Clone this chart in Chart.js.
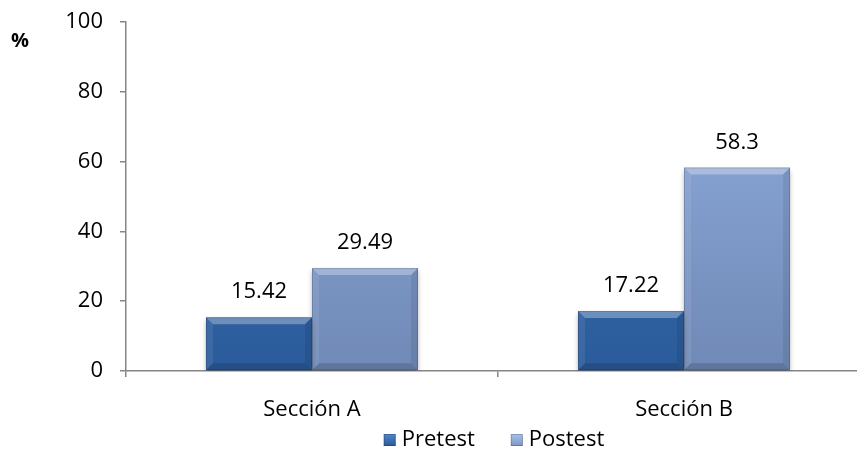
<!DOCTYPE html>
<html lang="es">
<head>
<meta charset="UTF-8">
<title>Pretest / Postest por sección</title>
<script src="https://cdn.jsdelivr.net/npm/chart.js"></script>
<style>
  html, body { margin: 0; padding: 0; background: #fff; overflow: hidden; }
  #wrap { width: 857px; height: 452px; overflow: hidden; }
  canvas { display: block; }
</style>
</head>
<body>
<div id="wrap">
  <canvas id="chart" width="880" height="452"></canvas>
</div>
<script>
// data
var secciones = ['Sección A', 'Sección B'];
var pretest = [15.42, 17.22];
var postest = [29.49, 58.3];
var yTicks = [0, 20, 40, 60, 80, 100];

var FONT = '"Open Sans", "Noto Sans", sans-serif';
var FONT_SIZE = 22;
var AXIS = '#868686';

// vertical gradient for a bar fill
function barFill(top, bottom) {
  return function (ctx) {
    var chart = ctx.chart, area = chart.chartArea;
    if (!area) return top;
    var g = chart.ctx.createLinearGradient(0, area.top, 0, area.bottom);
    g.addColorStop(0, top);
    g.addColorStop(1, bottom);
    return g;
  };
}

function quad(c, pts, col) {
  c.beginPath();
  c.moveTo(pts[0], pts[1]);
  for (var k = 2; k < pts.length; k += 2) c.lineTo(pts[k], pts[k + 1]);
  c.closePath();
  c.fillStyle = col;
  c.fill();
}

// soft shadow under the bars, bevel edges, value labels, legend and the % mark
var decoPlugin = {
  id: 'deco',
  beforeDatasetsDraw: function (chart) {
    var c = chart.ctx;
    c.save();
    c.shadowColor = 'rgba(0,0,0,0.35)';
    c.shadowBlur = 5;
    c.shadowOffsetY = 3;
  },
  afterDatasetsDraw: function (chart) {
    var c = chart.ctx;
    c.restore();
    chart.data.datasets.forEach(function (ds, i) {
      chart.getDatasetMeta(i).data.forEach(function (bar) {
        var x0 = bar.x - bar.width / 2, x1 = bar.x + bar.width / 2;
        var t = bar.y, b = bar.base, w = 7;
        quad(c, [x0, t, x1, t, x1 - w, t + w, x0 + w, t + w], 'rgba(255,255,255,0.30)');
        quad(c, [x0, t, x0 + w, t + w, x0 + w, b - w, x0, b], 'rgba(255,255,255,0.08)');
        quad(c, [x1, t, x1 - w, t + w, x1 - w, b - w, x1, b], 'rgba(0,0,0,0.08)');
        quad(c, [x0, b, x0 + w, b - w, x1 - w, b - w, x1, b], 'rgba(0,0,0,0.14)');
        c.strokeStyle = 'rgba(0,0,0,0.15)';
        c.lineWidth = 1;
        c.strokeRect(x0 + 0.5, t + 0.5, x1 - x0 - 1, b - t - 1);
      });
    });
    c.save();
    c.font = FONT_SIZE + 'px ' + FONT;
    c.fillStyle = '#000';
    c.textAlign = 'center';
    c.textBaseline = 'alphabetic';
    chart.data.datasets.forEach(function (ds, i) {
      chart.getDatasetMeta(i).data.forEach(function (bar, j) {
        c.fillText(String(ds.data[j]), bar.x, bar.y - 19);
      });
    });
    c.restore();
  },
  afterDraw: function (chart) {
    var c = chart.ctx, area = chart.chartArea;
    c.save();
    // legend, centred under the plot area
    c.font = FONT_SIZE + 'px ' + FONT;
    c.textBaseline = 'middle';
    c.textAlign = 'left';
    var box = 12, gapText = 6, gapItem = 36, cy = 440;
    var items = chart.data.datasets.map(function (ds) {
      return { label: ds.label, color: ds.legendColor, w: box + gapText + c.measureText(ds.label).width };
    });
    var total = items.reduce(function (s, it) { return s + it.w; }, 0) + gapItem * (items.length - 1);
    var x = (area.left + area.right) / 2 - total / 2 - 4;
    items.forEach(function (it) {
      var g = c.createLinearGradient(0, cy - box / 2, 0, cy + box / 2);
      g.addColorStop(0, it.color[0]);
      g.addColorStop(1, it.color[1]);
      c.fillStyle = g;
      c.fillRect(x, cy - box / 2, box, box);
      c.strokeStyle = 'rgba(0,0,0,0.2)';
      c.lineWidth = 1;
      c.strokeRect(x + 0.5, cy - box / 2 + 0.5, box - 1, box - 1);
      c.fillStyle = '#000';
      c.fillText(it.label, x + box + gapText, cy);
      x += it.w + gapItem;
    });
    // unit mark beside the y axis
    c.font = 'bold 20px ' + FONT;
    c.fillText('%', 11, 41);
    c.restore();
  }
};

new Chart(document.getElementById('chart'), {
  type: 'bar',
  data: {
    labels: secciones,
    datasets: [{
      label: 'Pretest',
      data: pretest,
      backgroundColor: barFill('#3a72b8', '#2b5b9a'),
      legendColor: ['#4f86cc', '#2a5a98']
    }, {
      label: 'Postest',
      data: postest,
      backgroundColor: barFill('#93b1e2', '#7089b6'),
      legendColor: ['#a9c2ea', '#7d97c4']
    }]
  },
  options: {
    responsive: false,
    animation: false,
    layout: { padding: { left: 0, right: 10, top: 22, bottom: 21 } },
    categoryPercentage: 0.57,
    barPercentage: 1.0,
    scales: {
      y: {
        min: 0,
        max: 100,
        afterBuildTicks: function (s) { s.ticks = yTicks.map(function (v) { return { value: v }; }); },
        afterFit: function (s) {
          s.width = 126;
          s.paddingTop = 0;
          s.paddingBottom = 0;
        },
        border: { color: AXIS, width: 1.5 },
        grid: { drawOnChartArea: false, color: AXIS, tickLength: 6, lineWidth: 1.5 },
        ticks: { color: '#000', padding: 17, font: { family: FONT, size: FONT_SIZE } }
      },
      x: {
        afterFit: function (s) { s.height = 60; },
        border: { color: AXIS, width: 1.5 },
        grid: { drawOnChartArea: false, color: AXIS, tickLength: 6, lineWidth: 1.5 },
        ticks: { color: '#000', padding: 20, font: { family: FONT, size: FONT_SIZE } }
      }
    },
    plugins: {
      legend: { display: false },
      tooltip: { enabled: false }
    }
  },
  plugins: [decoPlugin]
});
</script>
</body>
</html>
